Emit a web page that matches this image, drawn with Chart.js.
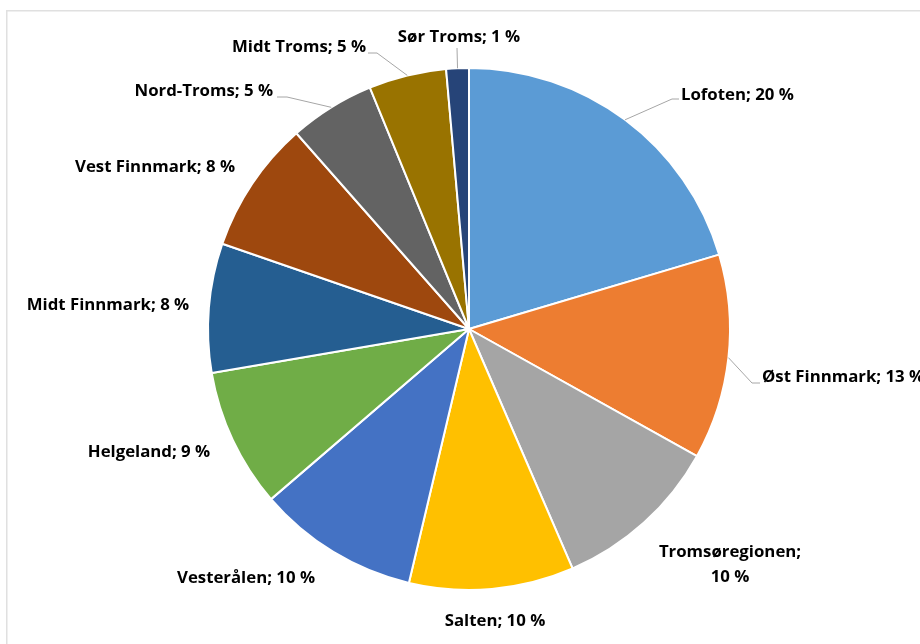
<!DOCTYPE html>
<html>
<head>
<meta charset="utf-8">
<script src="https://cdn.jsdelivr.net/npm/chart.js@4.4.1/dist/chart.umd.min.js"></script>
<style>
  html, body { margin: 0; padding: 0; background: #fff; }
  #wrap { position: relative; width: 920px; height: 644px; }
</style>
</head>
<body>
<div id="wrap"><canvas id="regionPie" width="920" height="644"></canvas></div>
<script>
// andel per region (prosent)
const regions = ['Lofoten', 'Øst Finnmark', 'Tromsøregionen', 'Salten', 'Vesterålen', 'Helgeland',
  'Midt Finnmark', 'Vest Finnmark', 'Nord-Troms', 'Midt Troms', 'Sør Troms'];
const shares = [20.4, 12.7, 10.4, 10.2, 10.0, 8.6, 8.0, 8.2, 5.3, 4.8, 1.4];
const sliceColors = ['#5B9BD5', '#ED7D31', '#A5A5A5', '#FFC000', '#4472C4', '#70AD47',
  '#255E91', '#9E480E', '#636363', '#997300', '#264478'];

// where each label sits; leader = [elbowX, elbowY, endX]
const labelLayout = [
  { x: 681, y: 95, align: 'left', leader: [672, 99, 679] },
  { x: 762, y: 377, align: 'left', leader: [752, 383, 760] },
  { x: 730, y: 552, align: 'center', wrap: true },
  { x: 495, y: 621, align: 'center' },
  { x: 246, y: 578, align: 'center' },
  { x: 149, y: 452, align: 'center' },
  { x: 108, y: 305, align: 'center' },
  { x: 155, y: 167, align: 'center' },
  { x: 273, y: 91, align: 'right', leader: [287, 97, 277] },
  { x: 366, y: 47, align: 'right', leader: [377, 53, 368] },
  { x: 459, y: 37, align: 'center', leader: [457, 48, 457] }
];

const labelFont = 'bold 16.8px "Open Sans", "Noto Sans", sans-serif';

// light frame round the chart area
const framePlugin = {
  id: 'frame',
  beforeDraw(chart) {
    const ctx = chart.ctx;
    ctx.save();
    ctx.strokeStyle = '#e0e0e0';
    ctx.lineWidth = 1.5;
    ctx.strokeRect(6.75, 10.75, 1000, 1000);
    ctx.restore();
  }
};

// outside labels with grey leader lines
const outsideLabels = {
  id: 'outsideLabels',
  afterDatasetsDraw(chart) {
    const ctx = chart.ctx;
    const arcs = chart.getDatasetMeta(0).data;
    ctx.save();
    arcs.forEach((arc, i) => {
      const lay = labelLayout[i];
      const mid = (arc.startAngle + arc.endAngle) / 2;
      const px = arc.x + Math.cos(mid) * arc.outerRadius;
      const py = arc.y + Math.sin(mid) * arc.outerRadius;
      if (lay.leader) {
        const [ex, ey, tx] = lay.leader;
        ctx.strokeStyle = '#a6a6a6';
        ctx.lineWidth = 1;
        ctx.beginPath();
        ctx.moveTo(px, py);
        ctx.lineTo(ex, ey);
        ctx.lineTo(tx, ey);
        ctx.stroke();
      }
      const pct = Math.round(shares[i]) + ' %';
      ctx.fillStyle = '#000';
      ctx.font = labelFont;
      ctx.textAlign = lay.align;
      ctx.textBaseline = 'middle';
      if (lay.wrap) {
        ctx.fillText(regions[i] + ';', lay.x, lay.y);
        ctx.fillText(pct, lay.x, lay.y + 25);
      } else {
        ctx.fillText(regions[i] + '; ' + pct, lay.x, lay.y);
      }
    });
    ctx.restore();
  }
};

new Chart(document.getElementById('regionPie'), {
  type: 'pie',
  data: {
    labels: regions,
    datasets: [{
      data: shares,
      backgroundColor: sliceColors,
      borderColor: '#ffffff',
      borderWidth: 2,
      hoverOffset: 0
    }]
  },
  options: {
    responsive: false,
    animation: false,
    layout: { padding: { top: 67, bottom: 53, left: 207, right: 189 } },
    plugins: {
      legend: { display: false },
      tooltip: { enabled: false }
    }
  },
  plugins: [framePlugin, outsideLabels]
});
</script>
</body>
</html>
